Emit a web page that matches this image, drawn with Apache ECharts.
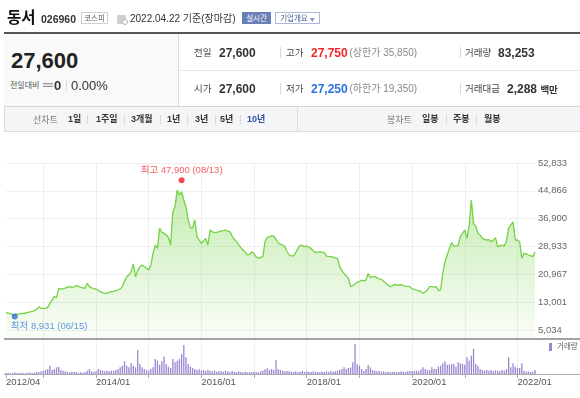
<!DOCTYPE html>
<html lang="ko"><head><meta charset="utf-8">
<script src="https://cdn.jsdelivr.net/npm/echarts@6.0.0/dist/echarts.min.js"></script>
<style>
*{box-sizing:border-box;}
html,body{margin:0;padding:0;width:580px;height:398px;overflow:hidden;background:#fff;}
body{font-family:"Liberation Sans","Noto Sans CJK KR",sans-serif;color:#333;position:relative;}
#chart{position:absolute;left:0;top:0;width:580px;height:398px;}
.a{position:absolute;}
.t{position:absolute;white-space:nowrap;line-height:1;transform:translateY(-50%);}
.b{font-weight:bold;}
.k{font-family:"Noto Sans CJK KR",sans-serif;}
.vs{position:absolute;width:1px;background:#d8d8d8;}
</style></head><body>
<div id="chart"></div>

<!-- title row -->
<div class="t b" style="left:7px;top:18px;font-size:15.5px;color:#111;">동서</div>
<div class="t b" style="left:41px;top:18.5px;font-size:10.5px;color:#333;">026960</div>
<div class="a k" style="left:81px;top:12px;width:27px;height:12px;border:1px solid #cfcfcf;font-size:7.5px;line-height:10px;text-align:center;color:#666;">코스피</div>
<div class="a" style="left:117px;top:15px;width:9px;height:9px;background:#cfcfcf;border-radius:1px;"></div>
<div class="a" style="left:122px;top:19px;width:6px;height:6px;background:#fff;border:1px solid #b5b5b5;border-radius:50%;"></div>
<div class="t" style="left:130px;top:18.5px;font-size:10px;color:#333;">2022.04.22 기준(장마감)</div>
<div class="a k" style="left:242px;top:12px;width:29px;height:12px;background:#6b7fb7;color:#fff;font-size:7.5px;line-height:12px;text-align:center;">실시간</div>
<div class="a k" style="left:275px;top:12px;width:45px;height:12px;border:1px solid #aeb9da;color:#4a5b8e;font-size:7.5px;line-height:10px;text-align:center;">기업개요 <span style="font-size:5px;color:#8a97c0;">▼</span></div>

<!-- info panel -->
<div class="a" style="left:4px;top:32px;width:576px;height:2px;background:#555;"></div>
<div class="a" style="left:4px;top:34px;width:174px;height:72px;background:#f9f9f9;"></div>
<div class="a" style="left:178px;top:34px;width:1px;height:72px;background:#dcdcdc;"></div>
<div class="a" style="left:179px;top:70px;width:401px;height:1px;background:#e8e8e8;"></div>

<div class="t b" style="left:11px;top:61px;font-size:22px;color:#222;">27,600</div>
<div class="t k" style="left:10px;top:84.5px;font-size:8px;color:#555;">전일대비</div>
<div class="a" style="left:43px;top:82.5px;width:10px;height:4px;border-top:1px solid #999;border-bottom:1px solid #999;background:#ddd;"></div>
<div class="t b" style="left:54px;top:85px;font-size:13px;color:#333;">0</div>
<div class="vs" style="left:66px;top:80px;height:10px;"></div>
<div class="t" style="left:71px;top:85px;font-size:13px;color:#333;">0.00%</div>

<div class="t k" style="left:194px;top:53px;font-size:9.5px;color:#444;">전일</div>
<div class="t b" style="left:219px;top:53px;font-size:12px;color:#333;">27,600</div>
<div class="vs" style="left:280px;top:47px;height:11px;"></div>
<div class="t k" style="left:286px;top:53px;font-size:9.5px;color:#444;">고가</div>
<div class="t b" style="left:311px;top:53px;font-size:12px;color:#f2262c;">27,750</div>
<div class="t" style="left:349.5px;top:53px;font-size:10px;color:#888;">(상한가 35,850)</div>
<div class="vs" style="left:460px;top:47px;height:11px;"></div>
<div class="t k" style="left:465px;top:53px;font-size:9.5px;color:#444;">거래량</div>
<div class="t b" style="left:498px;top:53px;font-size:12px;color:#333;">83,253</div>

<div class="t k" style="left:194px;top:88.5px;font-size:9.5px;color:#444;">시가</div>
<div class="t b" style="left:219px;top:88.5px;font-size:12px;color:#333;">27,600</div>
<div class="vs" style="left:280px;top:83px;height:11px;"></div>
<div class="t k" style="left:286px;top:88.5px;font-size:9.5px;color:#444;">저가</div>
<div class="t b" style="left:311px;top:88.5px;font-size:12px;color:#2a6fdb;">27,250</div>
<div class="t" style="left:349.5px;top:88.5px;font-size:10px;color:#888;">(하한가 19,350)</div>
<div class="vs" style="left:460px;top:83px;height:11px;"></div>
<div class="t k" style="left:465px;top:88.5px;font-size:9.5px;color:#444;">거래대금</div>
<div class="t b" style="left:507px;top:88.5px;font-size:12px;color:#333;">2,288 <span style="font-size:9.5px;">백만</span></div>

<!-- tabs -->
<div class="a" style="left:4px;top:106px;width:576px;height:26px;background:#f4f5f7;border-top:1px solid #d5d5d5;border-bottom:1px solid #dcdcdc;border-left:1px solid #dcdcdc;"></div>
<div class="a" style="left:297px;top:107px;width:1px;height:24px;background:#dcdcdc;"></div>
<div class="t k" style="left:33px;top:119px;font-size:9px;color:#777;">선차트</div>
<div class="t b" style="left:68px;top:119px;font-size:9px;color:#333;">1일</div>
<div class="vs" style="left:87px;top:115px;height:9px;"></div>
<div class="t b" style="left:96px;top:119px;font-size:9px;color:#333;">1주일</div>
<div class="vs" style="left:124px;top:115px;height:9px;"></div>
<div class="t b" style="left:131px;top:119px;font-size:9px;color:#333;">3개월</div>
<div class="vs" style="left:160px;top:115px;height:9px;"></div>
<div class="t b" style="left:167px;top:119px;font-size:9px;color:#333;">1년</div>
<div class="vs" style="left:187px;top:115px;height:9px;"></div>
<div class="t b" style="left:195px;top:119px;font-size:9px;color:#333;">3년</div>
<div class="vs" style="left:215px;top:115px;height:9px;"></div>
<div class="t b" style="left:220px;top:119px;font-size:9px;color:#333;">5년</div>
<div class="vs" style="left:240px;top:115px;height:9px;"></div>
<div class="t b" style="left:247px;top:119px;font-size:9px;color:#3552a5;">10년</div>
<div class="t k" style="left:387px;top:119px;font-size:9px;color:#777;">봉차트</div>
<div class="t b" style="left:422px;top:119px;font-size:9px;color:#333;">일봉</div>
<div class="vs" style="left:446px;top:115px;height:9px;"></div>
<div class="t b" style="left:453px;top:119px;font-size:9px;color:#333;">주봉</div>
<div class="vs" style="left:476px;top:115px;height:9px;"></div>
<div class="t b" style="left:484px;top:119px;font-size:9px;color:#333;">월봉</div>

<script>
// ---- data ----
const categories = (function () {
  const c = ['2012-04-23'];
  for (let y = 2012; y <= 2022; y++) {
    for (let m = 1; m <= 12; m++) {
      if (y === 2012 && m < 5) continue;
      if (y === 2022 && m > 4) break;
      const mm = String(m).padStart(2, '0');
      c.push(y + '-' + mm + '-01', y + '-' + mm + '-15');
    }
  }
  c.push('2022-04-22');
  return c;
})();

const priceValues = [
10000,9900,9700,9450,9420,9550,9650,9800,9750,9900,
10050,10200,10350,10600,10950,11700,11200,11250,11240,11500,
12670,13500,14570,14300,16900,16800,16770,17000,17300,17440,
17250,17400,17720,17500,17250,17100,16960,18390,17440,17100,
16900,16770,16400,16000,15720,15530,15600,15800,16000,16100,
16300,16480,16800,17440,19000,20300,20780,21730,23920,20300,
22000,23160,23640,23200,22680,22200,23640,26980,29360,28400,
34130,33000,32700,32220,31500,29360,38900,40330,45100,43670,
44620,42240,40330,36520,34420,34130,36520,31750,30790,29840,
30500,31270,29360,33650,33200,32890,33000,33180,33400,33500,
33650,33300,33180,31940,31000,30320,29500,28600,27930,27300,
26500,26700,27450,26800,26000,25550,25800,26020,30320,31500,
31750,31940,31900,31000,30030,29600,29360,28900,27500,26500,
26300,26210,27200,28410,29360,29200,28880,29080,28700,28410,
27700,27170,27300,27450,27300,27170,26210,26100,26020,25900,
25700,25550,23160,22000,21250,20500,19820,17440,17700,18200,
18700,18870,19340,19100,19340,21250,20000,20300,20300,20010,
19700,19540,19000,18390,17900,17440,17700,18100,17910,17910,
18000,17720,17600,17500,17440,16800,16700,16480,16300,16000,
15530,16000,16480,17440,17440,17300,17440,16290,16500,21250,
24590,26500,28410,30030,29080,29000,29360,31750,32700,33650,
31270,35000,42240,35500,34800,32700,32220,31270,30980,30790,
30900,30320,30700,31500,28880,29200,29360,29080,30500,34200,
35100,36000,30790,30790,30320,25550,26980,26800,26500,26300,
26020,27450
];

const volumeValues = [
3,4,2,3,5,3,2,4,3,3,
4,5,3,4,6,5,8,10,12,15,
25,12,15,20,22,12,10,8,6,5,
7,6,5,4,5,4,6,10,15,8,
6,8,15,12,10,8,10,8,10,9,
12,15,20,25,38,25,20,32,25,20,
72,30,20,15,12,10,15,20,45,40,
28,38,52,30,22,18,45,35,40,45,
60,87,50,30,22,18,15,12,14,10,
12,9,13,10,8,10,7,9,8,7,
10,8,6,9,7,6,8,6,5,7,
5,6,5,7,6,5,8,10,14,17,
12,15,12,42,15,12,10,8,9,8,
7,6,8,6,7,9,6,8,7,6,
8,7,6,5,7,6,8,6,9,7,
8,10,12,15,20,15,18,20,35,90,
30,25,15,10,15,27,20,12,10,8,
10,7,8,6,7,5,6,7,5,6,
8,7,6,8,10,9,8,10,9,14,
20,15,12,12,20,15,15,22,25,32,
38,28,28,30,30,22,35,32,30,28,
50,40,55,75,30,25,15,12,10,12,
10,12,9,11,10,9,12,10,15,50,
20,32,22,18,18,32,10,7,8,6,
7,12
];

const yTickLabels = ['5,034', '13,001', '20,967', '28,933', '36,900', '44,866', '52,833'];
const yTickMin = 5034;
const yTickStep = 7966.5;
const yTickMax = 52833;

const extremeDates = ['2015-08-15', '2012-06-15'];
const extremeValues = [47900, 8931];
const extremeLabels = ['최고 47,900 (08/13)', '최저 8,931 (06/15)'];

// ---- chart ----
const FONT = '"Liberation Sans","Noto Sans CJK KR",sans-serif';
const isYearStart = (i, v) => v.slice(5) === '01-01';
const showTick = (i, v) => i === 0 || isYearStart(i, v);
const showLabel = (i, v) => i === 0 || (isYearStart(i, v) && (+v.slice(0, 4)) % 2 === 0);

const chart = echarts.init(document.getElementById('chart'), null, { renderer: 'canvas' });
chart.setOption({
  animation: false,
  textStyle: { fontFamily: FONT },
  grid: [
    { left: 6, right: 45, top: 163, height: 175, outerBoundsMode: 'none' },
    { left: 6, right: 45, top: 163, height: 167, outerBoundsMode: 'none' },
    { left: 6, right: 45, top: 340, height: 34, outerBoundsMode: 'none' }
  ],
  xAxis: [
    { gridIndex: 0, type: 'category', data: categories, boundaryGap: false, z: 3,
      axisLine: { show: false }, axisTick: { show: false }, axisLabel: { show: false },
      splitLine: { show: true, interval: isYearStart, lineStyle: { color: '#eeeeee', width: 1 } } },
    { gridIndex: 1, type: 'category', data: categories, boundaryGap: false, show: false },
    { gridIndex: 2, type: 'category', data: categories, boundaryGap: false,
      axisLine: { show: false },
      axisTick: { show: true, interval: showTick, length: 4, lineStyle: { color: '#aaa' } },
      axisLabel: { interval: showLabel, formatter: v => v.slice(0, 7).replace('-', '/'),
        align: 'left', margin: 4, color: '#555', fontSize: 9.5, fontFamily: FONT },
      splitLine: { show: true, interval: isYearStart, lineStyle: { color: '#efefef' } } }
  ],
  yAxis: [
    { gridIndex: 0, type: 'value', min: 2745, max: yTickMax, show: false },
    { gridIndex: 1, type: 'value', position: 'right', min: yTickMin, max: yTickMax, interval: yTickStep, z: 3,
      axisLine: { show: false }, axisTick: { show: false },
      axisLabel: { formatter: (v, i) => yTickLabels[i], color: '#666', fontSize: 9.5, margin: 3, fontFamily: FONT },
      splitLine: { show: true, lineStyle: { color: '#eeeeee' } } },
    { gridIndex: 2, type: 'value', min: 0, max: 102, show: false }
  ],
  legend: {
    data: ['거래량'], left: 549, top: 343, padding: 0, icon: 'rect', itemWidth: 3, itemHeight: 8,
    selectedMode: false, textStyle: { fontSize: 7.5, color: '#666', fontFamily: FONT }
  },
  series: [
    { name: '주가', type: 'line', xAxisIndex: 0, yAxisIndex: 0, data: priceValues, symbol: 'none',
      lineStyle: { color: '#74d246', width: 1.3 },
      areaStyle: { color: new echarts.graphic.LinearGradient(0, 0, 0, 1, [
        { offset: 0, color: 'rgba(128,214,88,0.66)' },
        { offset: 1, color: 'rgba(128,214,88,0.06)' }
      ]) } },
    { name: '극값', type: 'scatter', xAxisIndex: 0, yAxisIndex: 0, symbolSize: 6, z: 5,
      data: [
        { value: [extremeDates[0], extremeValues[0]], itemStyle: { color: '#ee1f26' },
          label: { show: true, position: 'top', distance: 2, formatter: extremeLabels[0],
            color: '#f0333a', fontSize: 9.5, fontFamily: FONT } },
        { value: [extremeDates[1], extremeValues[1]], itemStyle: { color: '#2f6bd6' },
          label: { show: true, position: [-1, 8], formatter: extremeLabels[1],
            color: '#3d7bd9', fontSize: 9.5, fontFamily: FONT } }
      ] },
    { name: '거래량', type: 'bar', xAxisIndex: 2, yAxisIndex: 2, data: volumeValues, barWidth: 1.3,
      itemStyle: { color: '#9c86d2' } }
  ],
  graphic: [
    { type: 'line', shape: { x1: 4, y1: 339, x2: 580, y2: 339 }, style: { stroke: '#a3a3a3', lineWidth: 2 }, silent: true },
    { type: 'line', shape: { x1: 4, y1: 374.5, x2: 580, y2: 374.5 }, style: { stroke: '#a8a8a8', lineWidth: 1 }, silent: true }
  ]
});
</script>
</body></html>
